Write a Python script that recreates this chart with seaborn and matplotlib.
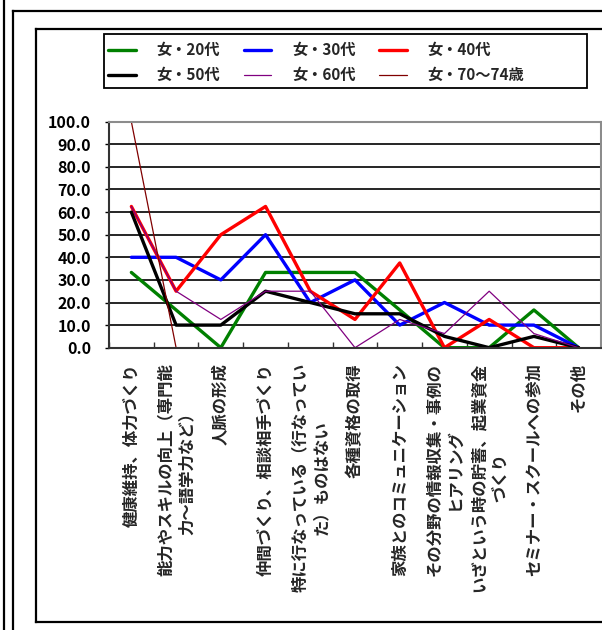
import numpy as np
import pandas as pd
import matplotlib
matplotlib.use("Agg")
import matplotlib.pyplot as plt
from matplotlib.lines import Line2D
from matplotlib.patches import Rectangle
import seaborn as sns

# ---- data ----
categories = [
    "健康維持、体力づくり",
    "能力やスキルの向上（専門能\n力～語学力など）",
    "人脈の形成",
    "仲間づくり、相談相手づくり",
    "特に行なっている（行なってい\nた）ものはない",
    "各種資格の取得",
    "家族とのコミュニケーション",
    "その分野の情報収集・事例の\nヒアリング",
    "いざという時の貯蓄、起業資金\nづくり",
    "セミナー・スクールへの参加",
    "その他",
]
series_names = ["女・20代", "女・30代", "女・40代", "女・50代", "女・60代", "女・70～74歳"]
f20 = [33.3, 16.7, 0.0, 33.3, 33.3, 33.3, 16.7, 0.0, 0.0, 16.7, 0.0]
f30 = [40.0, 40.0, 30.0, 50.0, 20.0, 30.0, 10.0, 20.0, 10.0, 10.0, 0.0]
f40 = [62.5, 25.0, 50.0, 62.5, 25.0, 12.5, 37.5, 0.0, 12.5, 0.0, 0.0]
f50 = [60.0, 10.0, 10.0, 25.0, 20.0, 15.0, 15.0, 5.0, 0.0, 5.0, 0.0]
f60 = [62.5, 25.0, 12.5, 25.0, 25.0, 0.0, 12.5, 6.25, 25.0, 6.25, 0.0]
f70 = [100.0, 0.0, 0.0, 0.0, 0.0, 0.0, 0.0, 0.0, 0.0, 0.0, 0.0]
y_ticks = [0, 10, 20, 30, 40, 50, 60, 70, 80, 90, 100]

series_values = [f20, f30, f40, f50, f60, f70]
colors = ["#008000", "#0000FF", "#FF0000", "#000000", "#800080", "#800000"]
widths = [2.4, 2.4, 2.4, 2.4, 0.9, 0.9]

# ---- style ----
sns.set_theme(style="white")
plt.rcParams["font.family"] = ["Noto Sans CJK JP", "DejaVu Sans"]
plt.rcParams["axes.unicode_minus"] = False

W, H = 602, 630
fig = plt.figure(figsize=(W / 100, H / 100), dpi=100)
ax = fig.add_axes([109 / W, 1 - 347.7 / H, (601 - 109) / W, (347.7 - 121.7) / H])

pos = np.arange(len(categories))
long = pd.DataFrame({
    "pos": np.tile(pos, len(series_names)),
    "value": np.concatenate(series_values),
    "series": np.repeat(series_names, len(categories)),
})

handles = {}
for name, col, lw in zip(series_names, colors, widths):
    sub = long[long["series"] == name]
    sns.lineplot(data=sub, x="pos", y="value", color=col, linewidth=lw,
                 ax=ax, legend=False, sort=False, estimator=None)
    handles[name] = Line2D([], [], color=col, linewidth=lw)

# ---- axes ----
ax.set_xlim(-0.5, len(categories) - 0.5)
ax.set_ylim(0, 100)
ax.set_xlabel("")
ax.set_ylabel("")
ax.set_yticks(y_ticks)
ax.set_yticklabels([f"{v:.1f}" for v in y_ticks], fontsize=11.5, fontweight="bold")
ax.tick_params(axis="y", direction="out", length=3, width=1, pad=10, left=True, colors="black")

ax.set_xticks(pos)
ax.set_xticklabels(categories, rotation=90, fontsize=11.8, fontweight="bold",
                   va="top", ha="center", multialignment="center")
ax.tick_params(axis="x", which="major", length=0, pad=11)
ax.set_xticks(np.arange(len(categories) + 1) - 0.5, minor=True)
ax.tick_params(axis="x", which="minor", direction="in", length=4, width=1,
               bottom=True, color="#333333")

for y in y_ticks[1:-1]:
    ax.axhline(y, color="black", linewidth=1.2, zorder=0.5)

for side in ["top", "right"]:
    ax.spines[side].set_color("#8c8c8c")
    ax.spines[side].set_linewidth(1.5)
for side in ["left", "bottom"]:
    ax.spines[side].set_color("#333333")
    ax.spines[side].set_linewidth(1.5)

# ---- legend ----
order = ["女・20代", "女・50代", "女・30代", "女・60代", "女・40代", "女・70～74歳"]
fig.legend([handles[n] for n in order], order, ncol=3,
           loc="upper left", bbox_to_anchor=(101.5 / W, 1 - 35 / H),
           prop={"size": 11, "weight": "bold"},
           frameon=False,
           handlelength=1.8, handletextpad=1.35, columnspacing=1.55,
           labelspacing=0.62, borderpad=0.45, borderaxespad=0)
fig.add_artist(Rectangle((104 / W, 1 - 88 / H), (587 - 104) / W, (88 - 34) / H,
                         transform=fig.transFigure, fill=False,
                         edgecolor="black", linewidth=1.3))

# ---- surrounding frames ----
def fline(x0, y0, x1, y1, lw=1.6, color="black"):
    fig.add_artist(Line2D([x0 / W, x1 / W], [1 - y0 / H, 1 - y1 / H],
                          transform=fig.transFigure, color=color, linewidth=lw,
                          solid_capstyle="projecting"))

fline(3.5, 0, 3.5, H)
fline(13, 11, 13, H)
fline(13, 11, W, 11)
fline(36, 29, 36, 622)
fline(36, 29, W, 29)
fline(36, 622, W, 622)

fig.savefig("out.png", dpi=100)
